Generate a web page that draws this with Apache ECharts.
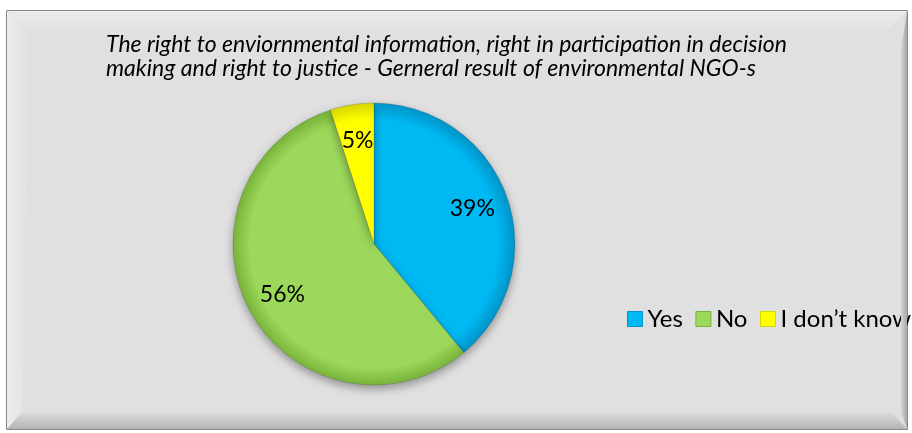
<!DOCTYPE html>
<html>
<head>
<meta charset="utf-8">
<script src="https://cdn.jsdelivr.net/npm/echarts@6/dist/echarts.min.js"></script>
<style>
  html, body { margin: 0; padding: 0; background: #fff; }
  #chart { width: 912px; height: 433px; }
</style>
</head>
<body>
<div id="chart"></div>
<script>
var titleText = 'The right to enviornmental information, right in participation in decision\nmaking and right to justice - Gerneral result of environmental NGO-s';
var categories = ['Yes', 'No', 'I don\u2019t know'];
var shares = [39, 56, 5];
var colors = ['#00b8f2', '#9cd85a', '#ffff00'];
var edgeColors = ['#0094c8', '#78b43a', '#d8d800'];

var cx = 374, cy = 244, R = 141;
var font = 'Lato, "Open Sans", sans-serif';

function sliceFill(i) {
  return {
    type: 'radial', x: cx, y: cy, r: R, global: true,
    colorStops: [
      { offset: 0, color: colors[i] },
      { offset: 0.88, color: colors[i] },
      { offset: 1, color: edgeColors[i] }
    ]
  };
}

var pieData = categories.map(function (name, i) {
  return { name: name, value: shares[i], itemStyle: { color: sliceFill(i) } };
});
var labelData = categories.map(function (name, i) {
  return { name: name, value: shares[i] };
});

var chart = echarts.init(document.getElementById('chart'), null, { renderer: 'canvas' });
chart.setOption({
  backgroundColor: '#ffffff',
  animation: false,
  title: {
    text: titleText,
    left: 106, top: 33, padding: 0,
    textStyle: { fontFamily: font, fontStyle: 'italic', fontWeight: 'normal', fontSize: 23, lineHeight: 24, color: '#000' }
  },
  legend: {
    left: 627, top: 307, padding: 0,
    itemWidth: 15, itemHeight: 15, itemGap: 12.5,
    icon: 'rect',
    textStyle: { fontFamily: font, fontSize: 24, color: '#000' },
    data: categories.map(function (name, i) {
      return { name: name, itemStyle: { color: colors[i], borderColor: edgeColors[i], borderWidth: 1 } };
    })
  },
  graphic: [
    { type: 'rect', z: -10, shape: { x: 6.5, y: 10.5, width: 901, height: 419 },
      style: { fill: '#e0e0e0', stroke: '#8a8a8a', lineWidth: 1 } },
    { type: 'polygon', z: -9, shape: { points: [[7, 11], [907, 11], [885, 32], [29, 32]] },
      style: { fill: { type: 'linear', x: 0, y: 0, x2: 0, y2: 1, colorStops: [{ offset: 0, color: '#ebebeb' }, { offset: 1, color: '#e2e2e2' }] } } },
    { type: 'polygon', z: -9, shape: { points: [[7, 11], [29, 32], [22, 412], [7, 429]] },
      style: { fill: { type: 'linear', x: 0, y: 0, x2: 1, y2: 0, colorStops: [{ offset: 0, color: '#ececec' }, { offset: 1, color: '#e1e1e1' }] } } },
    { type: 'polygon', z: -9, shape: { points: [[7, 429], [22, 412], [892, 412], [907, 429]] },
      style: { fill: { type: 'linear', x: 0, y: 0, x2: 0, y2: 1, colorStops: [{ offset: 0, color: '#dddddd' }, { offset: 1, color: '#b4b4b4' }] } } },
    { type: 'polygon', z: 100, shape: { points: [[907, 11], [901, 50], [901, 412], [907, 429]] },
      style: { fill: { type: 'linear', x: 0, y: 0, x2: 1, y2: 0, colorStops: [{ offset: 0, color: '#d4d4d4' }, { offset: 1, color: '#a8a8a8' }] } } }
  ],
  series: [
    {
      type: 'pie',
      center: [cx, cy],
      radius: [0, R],
      startAngle: 90,
      clockwise: true,
      label: { show: false },
      labelLine: { show: false },
      emphasis: { disabled: true },
      itemStyle: { borderColor: 'rgba(60,60,60,0.35)', borderWidth: 0.6, shadowBlur: 10, shadowOffsetY: 4, shadowColor: 'rgba(0,0,0,0.35)' },
      data: pieData
    },
    {
      type: 'pie',
      center: [cx, cy],
      radius: [62, R],
      startAngle: 90,
      clockwise: true,
      silent: true,
      legendHoverLink: false,
      itemStyle: { color: 'rgba(0,0,0,0)' },
      label: {
        show: true, position: 'inside',
        formatter: '{c}%',
        fontFamily: font, fontSize: 23, color: '#000'
      },
      labelLine: { show: false },
      data: labelData,
      z: 3
    }
  ]
});
</script>
</body>
</html>
